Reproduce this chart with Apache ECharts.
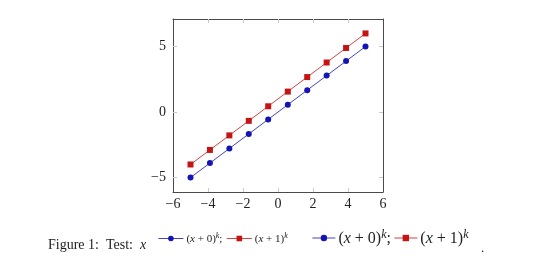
<!DOCTYPE html>
<html><head><meta charset="utf-8">
<script src="https://cdn.jsdelivr.net/npm/echarts@6/dist/echarts.min.js"></script>
<style>html,body{margin:0;padding:0;background:#fff}#c{width:540px;height:274px}</style>
</head><body><div id="c"></div>
<script>
const xValues = [-5, -3.89, -2.78, -1.67, -0.56, 0.56, 1.67, 2.78, 3.89, 5];
const seriesA = [-5, -3.89, -2.78, -1.67, -0.56, 0.56, 1.67, 2.78, 3.89, 5];
const seriesB = [-4, -2.89, -1.78, -0.67, 0.44, 1.56, 2.67, 3.78, 4.89, 6];
const xTicks = [-6, -4, -2, 0, 2, 4, 6];
const yTicks = [-5, 0, 5];
const names = ['(x + 0)^k', '(x + 1)^k'];

const FONT = '"Liberation Serif", "DejaVu Serif", serif';
const BLUE = '#1414b4';
const RED = '#c41414';
const fmt = v => (v < 0 ? '\u2212' + Math.abs(v) : String(v));

function axisX(showLabel) {
  return {
    type: 'value', min: xTicks[0], max: xTicks[xTicks.length - 1], interval: 2,
    position: showLabel ? 'bottom' : 'top',
    axisLine: {show: true, onZero: false, lineStyle: {color: '#4a4a4a', width: 1}},
    axisTick: {show: true, inside: true, length: 4, lineStyle: {color: '#c8c8c8'}, customValues: xTicks.slice(1, -1)},
    axisLabel: {show: showLabel, formatter: fmt, fontFamily: FONT, fontSize: 14, color: '#222', margin: 5},
    splitLine: {show: false}
  };
}
function axisY(showLabel) {
  return {
    type: 'value', min: -6.1, max: 7.1,
    position: showLabel ? 'left' : 'right',
    axisLine: {show: true, onZero: false, lineStyle: {color: '#4a4a4a', width: 1}},
    axisTick: {show: true, inside: true, length: 4, lineStyle: {color: '#c8c8c8'}, customValues: yTicks},
    axisLabel: {show: showLabel, formatter: fmt, fontFamily: FONT, fontSize: 14, color: '#222', margin: 7, customValues: yTicks},
    splitLine: {show: false}
  };
}

function richLabel(sz) {
  const lh = Math.round(sz * 1.15);
  return {
    p: {fontFamily: FONT, fontSize: sz, color: '#222', lineHeight: lh, verticalAlign: 'bottom'},
    i: {fontFamily: FONT, fontSize: sz, fontStyle: 'italic', color: '#222', lineHeight: lh, verticalAlign: 'bottom'},
    s: {fontFamily: FONT, fontSize: Math.round(sz * 0.72), fontStyle: 'italic', color: '#222', lineHeight: Math.round(sz * 0.75), verticalAlign: 'top'}
  };
}
const legendFmt = name => {
  const idx = names.indexOf(name);
  return idx === 0 ? '{p|(}{i|x}{p| + 0)}{s|k}{p|;}' : '{p|(}{i|x}{p| + 1)}{s|k}';
};

const option = {
  animation: false,
  grid: {left: 173, right: 157, top: 19, bottom: 82, containLabel: false},
  xAxis: [axisX(true), axisX(false)],
  yAxis: [axisY(true), axisY(false)],
  title: {
    text: '{p|Figure 1:  Test:  }{i|x}',
    left: 48, top: 238, padding: 0,
    textStyle: {fontWeight: 'normal', rich: {
      p: {fontFamily: FONT, fontSize: 14, color: '#222', fontWeight: 'normal'},
      i: {fontFamily: FONT, fontSize: 14, fontStyle: 'italic', color: '#222', fontWeight: 'normal'}
    }}
  },
  legend: [
    {
      left: 158, top: 232, padding: 0, orient: 'horizontal', itemWidth: 25, itemHeight: 7, itemGap: 4,
      data: names, formatter: legendFmt,
      lineStyle: {width: 0.8},
      textStyle: {rich: richLabel(11), padding: [0, 0, 0, -2]}
    },
    {
      left: 312, top: 229, padding: 0, orient: 'horizontal', itemWidth: 23, itemHeight: 8, itemGap: 3,
      data: names, formatter: legendFmt,
      lineStyle: {width: 0.8},
      textStyle: {rich: richLabel(16), padding: [0, 0, 0, -2]}
    }
  ],
  graphic: [{type: 'text', left: 481, top: 242, style: {text: '.', font: '13px ' + FONT, fill: '#222'}}],
  series: [
    {
      name: names[0], type: 'line', xAxisIndex: 0, yAxisIndex: 0,
      data: xValues.map((x, i) => [x, seriesA[i]]),
      symbol: 'circle', symbolSize: 6,
      lineStyle: {color: BLUE, width: 0.8}, itemStyle: {color: BLUE}
    },
    {
      name: names[1], type: 'line', xAxisIndex: 0, yAxisIndex: 0,
      data: xValues.map((x, i) => [x, seriesB[i]]),
      symbol: 'rect', symbolSize: 6,
      lineStyle: {color: RED, width: 0.8}, itemStyle: {color: RED}
    }
  ]
};
const chart = echarts.init(document.getElementById('c'), null, {renderer: 'canvas'});
chart.setOption(option);
</script></body></html>
